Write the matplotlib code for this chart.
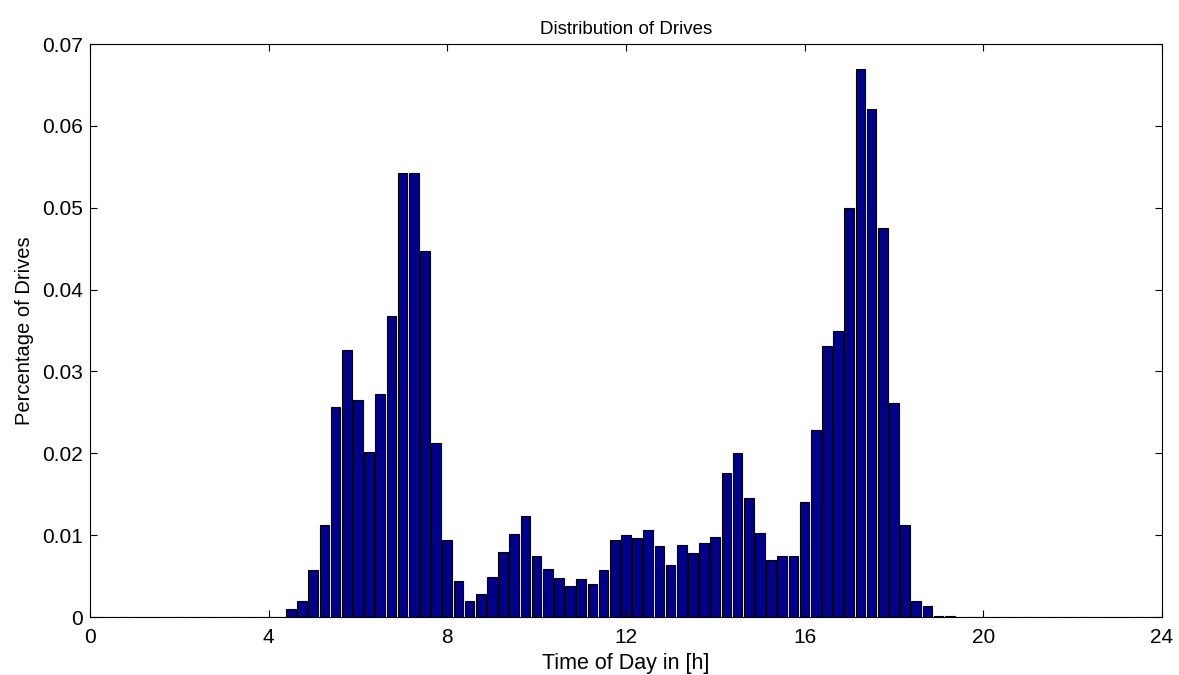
import numpy as np
import matplotlib
matplotlib.use('Agg')
import matplotlib.pyplot as plt

plt.rcParams['font.family'] = ['Liberation Sans', 'DejaVu Sans']

# share of drives per 15-minute slot, bar centres every quarter hour
binCenters = np.arange(97) * 0.25
shares = np.zeros(97)
firstBin = 18  # 4:30 h
activeShares = [
    0.0010, 0.0019, 0.0058, 0.0113, 0.0257, 0.0326, 0.0265, 0.0202,
    0.0272, 0.0368, 0.0542, 0.0543, 0.0447, 0.0213, 0.0094, 0.0044,
    0.0019, 0.0028, 0.0049, 0.0079, 0.0102, 0.0124, 0.0075, 0.0059,
    0.0048, 0.0038, 0.0046, 0.0040, 0.0058, 0.0094, 0.0100, 0.0097,
    0.0106, 0.0087, 0.0064, 0.0088, 0.0078, 0.0090, 0.0098, 0.0176,
    0.0200, 0.0145, 0.0103, 0.0070, 0.0075, 0.0075, 0.0140, 0.0228,
    0.0331, 0.0350, 0.0500, 0.0670, 0.0620, 0.0475, 0.0261, 0.0112,
    0.0019, 0.0013, 0.0001, 0.0001,
]
shares[firstBin:firstBin + len(activeShares)] = activeShares

xTicks = [0, 4, 8, 12, 16, 20, 24]
yTicks = [0, 0.01, 0.02, 0.03, 0.04, 0.05, 0.06, 0.07]
yTickLabels = ['0', '0.01', '0.02', '0.03', '0.04', '0.05', '0.06', '0.07']

fig = plt.figure(figsize=(11.79, 6.75), dpi=100)
ax = fig.add_axes([0.0763, 0.0859, 0.9092, 0.8489])

ax.bar(binCenters, shares, width=0.215, color='#00008b', edgecolor='black', linewidth=0.8)

ax.set_xlim(0, 24)
ax.set_ylim(0, 0.07)
ax.set_xticks(xTicks)
ax.set_yticks(yTicks)
ax.set_yticklabels(yTickLabels)
ax.tick_params(direction='in', top=True, right=True, length=5, width=0.8, labelsize=15)
ax.tick_params(axis='x', pad=8)
ax.tick_params(axis='y', pad=5)
for spine in ax.spines.values():
    spine.set_linewidth(0.8)

ax.set_title('Distribution of Drives', fontsize=13.5, pad=7)
ax.set_xlabel('Time of Day in [h]', fontsize=15.5, labelpad=4)
ax.set_ylabel('Percentage of Drives', fontsize=14.5, labelpad=6)

fig.savefig('out.png', dpi=100)
